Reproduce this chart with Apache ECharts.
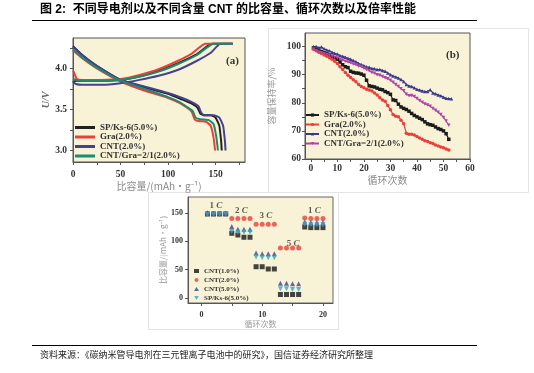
<!DOCTYPE html>
<html><head><meta charset="utf-8">
<script src="https://cdn.jsdelivr.net/npm/echarts@6/dist/echarts.min.js"></script>
<style>html,body{margin:0;padding:0;background:#fff}#c{width:534px;height:373px}</style>
</head><body><div id="c"></div>
<script>
// ---------- Panel (a): charge / discharge curves ----------
const aNames = ['SP/Ks-6(5.0%)', 'Gra(2.0%)', 'CNT(2.0%)', 'CNT/Gra=2/1(2.0%)'];
const aColors = ['#222222', '#e8403a', '#45408f', '#1f8a6e'];
// charge (rising) curves
const spChargeCap  = [0, 3, 10, 30, 50, 70, 90, 110, 130, 146, 168];
const spChargeV    = [3.83, 3.85, 3.85, 3.85, 3.86, 3.90, 3.97, 4.06, 4.17, 4.30, 4.30];
const graChargeCap = [0, 1, 4, 10, 30, 50, 70, 90, 110, 125, 139, 168];
const graChargeV   = [3.97, 3.95, 3.87, 3.86, 3.86, 3.87, 3.92, 3.99, 4.09, 4.18, 4.30, 4.30];
const cntChargeCap = [0, 3, 10, 30, 50, 70, 90, 110, 130, 145, 155, 168];
const cntChargeV   = [3.84, 3.81, 3.80, 3.80, 3.82, 3.86, 3.91, 3.98, 4.09, 4.19, 4.30, 4.30];
const mixChargeCap = [0, 3, 10, 30, 50, 70, 90, 110, 130, 148, 168];
const mixChargeV   = [3.87, 3.86, 3.85, 3.85, 3.86, 3.90, 3.96, 4.05, 4.16, 4.30, 4.30];
// discharge (falling) curves
const spDisCap  = [0, 10, 25, 50, 75, 100, 115, 125, 131, 134, 137, 145, 150, 154, 156, 156.5];
const spDisV    = [4.27, 4.16, 4.03, 3.86, 3.77, 3.69, 3.62, 3.57, 3.52, 3.45, 3.43, 3.43, 3.40, 3.30, 3.10, 3.00];
const graDisCap = [0, 10, 25, 50, 75, 100, 112, 120, 125, 128, 132, 140, 145, 148, 149.5];
const graDisV   = [4.22, 4.12, 4.00, 3.84, 3.73, 3.64, 3.58, 3.52, 3.47, 3.38, 3.36, 3.35, 3.30, 3.15, 3.00];
const cntDisCap = [0, 10, 25, 50, 75, 100, 115, 125, 132, 135, 138, 148, 154, 158, 160, 160.5];
const cntDisV   = [4.26, 4.16, 4.03, 3.86, 3.78, 3.70, 3.64, 3.59, 3.54, 3.46, 3.43, 3.43, 3.40, 3.30, 3.10, 3.00];
const mixDisCap = [0, 10, 25, 50, 75, 100, 112, 120, 126, 129, 134, 143, 148, 151, 152.5];
const mixDisV   = [4.23, 4.13, 4.01, 3.85, 3.75, 3.65, 3.59, 3.53, 3.48, 3.40, 3.38, 3.37, 3.32, 3.15, 3.00];
const aXTicks = [0, 50, 100, 150];
const aYTicks = [3.0, 3.5, 4.0];

// ---------- Panel (b): capacity retention vs cycle ----------
const bNames = ['SP/Ks-6(5.0%)', 'Gra(2.0%)', 'CNT(2.0%)', 'CNT/Gra=2/1(2.0%)'];
const bColors = ['#1c1c1c', '#e8403a', '#3d3a8c', '#b044a8'];
const bSP  = [99.5, 99, 98.5, 98.2, 97.8, 97.5, 97, 96.5, 96, 95.5, 94.5, 93.5, 92.8, 92.5, 91.2, 90.8, 90.6, 90.5, 90.2, 89.8,
              88, 86, 85.8, 85.6, 85.2, 84.8, 84.6, 84, 83.6, 83, 81, 80.8, 79.5, 78.5, 78, 77.6, 77, 76.2, 75.5, 75,
              74.5, 74, 73.2, 72.5, 72.2, 72, 71.4, 70.8, 70.5, 70, 69, 67];
const bGra = [99, 98.5, 98, 97.5, 97, 96.5, 96, 95.5, 94.8, 94, 92.8, 91.8, 90.8, 89.8, 89, 88.2, 87.5, 86.5, 85.8, 85.3,
              84.8, 84.5, 84.2, 83.5, 82.8, 81.8, 81, 80.5, 79, 77.5, 75.8, 75.2, 75, 73.8, 72.5, 69.2, 68.8, 68.8, 68.5, 68,
              67.5, 67, 66.5, 66.2, 65.8, 65.5, 65, 64.6, 64.3, 64, 63.6, 63.2];
const bCNT = [100, 100, 99.6, 99.8, 99.2, 98.8, 98.5, 98, 97.6, 97.3, 96.8, 96.5, 96.2, 95.8, 95.5, 95, 94.6, 94, 93.6, 93.2,
              92.8, 92.6, 92.2, 92.1, 91.8, 91.8, 91.5, 91.2, 90.6, 90, 89.5, 89.2, 88.8, 88.3, 87.6, 86.5, 86, 85.8, 85.3, 84.8,
              84.5, 84.2, 84, 84, 84.6, 83.5, 83.2, 82.8, 82.5, 82, 81.6, 81.5, 81.4];
const bMix = [99, 98.5, 98, 97.8, 97.5, 97.2, 96.8, 96.5, 96.2, 95.9, 95.5, 95.2, 94.8, 94.5, 94.2, 93.8, 93.5, 93.1, 92.8, 92.3,
              91.8, 91.4, 90.8, 90.5, 90, 89.8, 89.3, 88.9, 88.5, 88, 87.3, 86.5, 85.8, 85, 84.3, 83, 82.5, 82.6, 82.2, 81.5,
              80.8, 80.2, 79.6, 79.2, 78.8, 78, 77.3, 76.6, 75.8, 74.8, 73.5, 72];
const bXTicks = [0, 10, 20, 30, 40, 50, 60];
const bYTicks = [60, 70, 80, 90, 100];

// ---------- Panel (c): rate performance ----------
const cNames = ['CNT(1.0%)', 'CNT(2.0%)', 'CNT(5.0%)', 'SP/Ks-6(5.0%)'];
const cColors = ['#151515', '#e8403a', '#3d4294', '#2fa6c8'];
const cCycles = [1, 2, 3, 4, 5, 6, 7, 8, 9, 10, 11, 12, 13, 14, 15, 16, 17, 18, 19, 20];
const cCNT1 = [148, 148, 148, 148, 114, 111, 107, 107, 55, 55, 51, 51, 6, 6, 6, 6, 125, 124, 124, 124];
const cCNT2 = [149, 149, 149, 149, 140, 140, 140, 140, 130, 130, 130, 130, 88, 88, 88, 88, 141, 140, 140, 140];
const cCNT5 = [150, 149, 149, 149, 126, 121, 121, 121, 79, 78, 78, 78, 26, 26, 25, 25, 134, 133, 133, 133];
const cSP   = [147, 147, 147, 147, 117, 116, 116, 116, 72, 71, 71, 71, 16, 16, 15, 15, 130, 129, 129, 129];
const cRateText = ['1', '2', '3', '5', '1'];
const cRateX = [2.4, 6.6, 10.6, 15.1, 18.6];
const cRateY = [163, 154, 145, 96, 154];
const cXTicks = [0, 10, 20];
const cYTicks = [0, 50, 100, 150];

const serif = '"Liberation Serif","DejaVu Serif",serif';
const cjk = '"Noto Sans CJK SC","Noto Sans",sans-serif';
const cream = '#f8f3d7';

function zip(xs, ys) { return xs.map((x, i) => [x, ys[i]]); }

const chart = echarts.init(document.getElementById('c'), null, {renderer: 'canvas'});

function axisCommon(ticks, labelTicks, fontSize, margin, fmt) {
  return {
    type: 'value',
    axisLine: {show: true, onZero: false, lineStyle: {color: '#555', width: 1}},
    axisTick: {show: true, inside: false, length: 3, customValues: ticks, lineStyle: {color: '#555'}},
    axisLabel: {show: true, customValues: labelTicks, fontFamily: serif, fontWeight: 'bold', fontSize: fontSize,
                color: '#333', margin: margin, formatter: fmt || (v => String(v))},
    splitLine: {show: false},
    nameTextStyle: {fontFamily: cjk, color: '#8a8a8a'}
  };
}

const series = [];
const aCharge = [[spChargeCap, spChargeV], [graChargeCap, graChargeV], [cntChargeCap, cntChargeV], [mixChargeCap, mixChargeV]];
const aDis = [[spDisCap, spDisV], [graDisCap, graDisV], [cntDisCap, cntDisV], [mixDisCap, mixDisV]];
aNames.forEach((n, i) => {
  [aDis[i], aCharge[i]].forEach(d => {
    series.push({
      type: 'line', name: 'a:' + n, xAxisIndex: 0, yAxisIndex: 0, symbol: 'none',
      data: zip(d[0], d[1]), smooth: 0.15, color: aColors[i],
      lineStyle: {width: 2, color: aColors[i]}, silent: true, animation: false
    });
  });
});

const bSym = ['rect', 'circle', 'triangle', 'path://M0,0 L10,0 L5,9 Z'];
[bSP, bGra, bCNT, bMix].forEach((vals, i) => {
  series.push({
    type: 'line', name: 'b:' + bNames[i], xAxisIndex: 1, yAxisIndex: 1,
    data: vals.map((v, k) => [k + 1, v]), symbol: bSym[i], symbolSize: 3.5, showSymbol: true,
    color: bColors[i], lineStyle: {width: 1.2, color: bColors[i]}, itemStyle: {color: bColors[i]},
    animation: false
  });
});

const cSym = ['rect', 'circle', 'triangle', 'path://M0,0 L10,0 L5,9 Z'];
[cCNT1, cCNT2, cCNT5, cSP].forEach((vals, i) => {
  series.push({
    type: 'scatter', name: 'c:' + cNames[i], xAxisIndex: 2, yAxisIndex: 2,
    data: zip(cCycles, vals), symbol: cSym[i], symbolSize: 5,
    itemStyle: {color: cColors[i]}, animation: false
  });
});
series.push({
  type: 'scatter', name: 'rates', xAxisIndex: 2, yAxisIndex: 2, symbolSize: 0, silent: true,
  data: cRateText.map((t, i) => ({value: [cRateX[i], cRateY[i]], t: t})),
  label: {
    show: true, position: 'inside',
    formatter: p => '{n|' + p.data.t + ' }{c|C}',
    rich: {
      n: {fontFamily: serif, fontWeight: 'bold', fontSize: 9, color: '#333'},
      c: {fontFamily: serif, fontWeight: 'bold', fontStyle: 'italic', fontSize: 9, color: '#333'}
    }
  }
});

const ax0 = axisCommon([0, 25, 50, 75, 100, 125, 150, 175], aXTicks, 9.5, 8);
Object.assign(ax0, {gridIndex: 0, min: 0, max: 181, name: '比容量/(mAh·g⁻¹)', nameLocation: 'middle', nameGap: 19});
ax0.nameTextStyle = {fontFamily: cjk, color: '#8a8a8a', fontSize: 10};
const ay0 = axisCommon([3.0, 3.25, 3.5, 3.75, 4.0, 4.25], aYTicks, 9.5, 6, v => v.toFixed(1));
Object.assign(ay0, {gridIndex: 0, min: 2.86, max: 4.37, name: 'U/V', nameLocation: 'middle', nameGap: 13});
ay0.nameTextStyle = {fontFamily: serif, fontStyle: 'italic', fontWeight: 'bold', color: '#666', fontSize: 10};

const ax1 = axisCommon([0, 5, 10, 15, 20, 25, 30, 35, 40, 45, 50, 55, 60], bXTicks, 9.5, 5);
Object.assign(ax1, {gridIndex: 1, min: -2.2, max: 60, name: '循环次数', nameLocation: 'middle', nameGap: 16});
ax1.nameTextStyle = {fontFamily: cjk, color: '#8a8a8a', fontSize: 10};
const ay1 = axisCommon([60, 65, 70, 75, 80, 85, 90, 95, 100], bYTicks, 9.5, 4);
Object.assign(ay1, {gridIndex: 1, min: 60, max: 104.8, name: '容量保持率/%', nameLocation: 'middle', nameGap: 29});
ay1.nameTextStyle = {fontFamily: cjk, color: '#9a9a9a', fontSize: 9};

const ax2 = axisCommon([0, 5, 10, 15, 20], cXTicks, 8, 8);
Object.assign(ax2, {gridIndex: 2, min: -2.2, max: 21.65, name: '循环次数', nameLocation: 'middle', nameGap: 14});
ax2.nameTextStyle = {fontFamily: cjk, color: '#9a9a9a', fontSize: 8};
const ay2 = axisCommon([0, 50, 100, 150], cYTicks, 8, 5);
Object.assign(ay2, {gridIndex: 2, min: -9, max: 178, name: '比容量/(mAh·g⁻¹)', nameLocation: 'middle', nameGap: 20});
ay2.nameTextStyle = {fontFamily: cjk, color: '#9a9a9a', fontSize: 8};

const strip = n => n.slice(2);

chart.setOption({
  animation: false,
  backgroundColor: '#fff',
  grid: [
    {left: 73, top: 38, width: 172, height: 124, show: true, backgroundColor: cream, borderColor: '#555', borderWidth: 1, containLabel: false, outerBoundsMode: 'none'},
    {left: 305, top: 33, width: 165, height: 126, show: true, backgroundColor: cream, borderColor: '#555', borderWidth: 1, containLabel: false, outerBoundsMode: 'none'},
    {left: 188, top: 197, width: 145, height: 106, show: true, backgroundColor: cream, borderColor: '#666', borderWidth: 1, containLabel: false, outerBoundsMode: 'none'}
  ],
  xAxis: [ax0, ax1, ax2],
  yAxis: [ay0, ay1, ay2],
  legend: [
    {data: aNames.map(n => 'a:' + n), formatter: strip, orient: 'vertical', left: 75, top: 123, padding: 0,
     itemGap: 0.5, itemWidth: 20, itemHeight: 3, icon: 'rect', selectedMode: false,
     textStyle: {fontFamily: serif, fontWeight: 'bold', fontSize: 9, color: '#333', lineHeight: 9}},
    {data: bNames.map(n => 'b:' + n), formatter: strip, orient: 'vertical', left: 305, top: 110.5, padding: 0,
     itemGap: 0.5, itemWidth: 13, itemHeight: 4, selectedMode: false,
     textStyle: {fontFamily: serif, fontWeight: 'bold', fontSize: 9, color: '#333', lineHeight: 9}},
    {data: cNames.map(n => 'c:' + n), formatter: strip, orient: 'vertical', left: 194, top: 267, padding: 0,
     itemGap: 1, itemWidth: 5, itemHeight: 4, selectedMode: false,
     textStyle: {fontFamily: serif, fontWeight: 'bold', fontSize: 7, color: '#333', lineHeight: 8}}
  ],
  graphic: [
    {type: 'text', left: 40, top: 4, style: {text: '图 2:  不同导电剂以及不同含量 CNT 的比容量、循环次数以及倍率性能',
      font: 'bold 12px "Liberation Sans","Noto Sans CJK SC",sans-serif', fill: '#000'}},
    {type: 'line', shape: {x1: 32, y1: 20.5, x2: 477, y2: 20.5}, style: {stroke: '#000', lineWidth: 1}},
    {type: 'line', shape: {x1: 32, y1: 345.5, x2: 477, y2: 345.5}, style: {stroke: '#000', lineWidth: 1}},
    {type: 'text', left: 40, top: 350, style: {text: '资料来源：《碳纳米管导电剂在三元锂离子电池中的研究》，国信证券经济研究所整理',
      font: '9px "Noto Sans CJK SC",sans-serif', fill: '#222'}},
    {type: 'rect', shape: {x: 268.5, y: 28.5, width: 260, height: 164}, style: {fill: 'none', stroke: '#e4e4e4', lineWidth: 1}, z: -1},
    {type: 'rect', shape: {x: 148.5, y: 192.5, width: 190, height: 137}, style: {fill: 'none', stroke: '#e4e4e4', lineWidth: 1}, z: -1},
    {type: 'text', left: 226, top: 56, style: {text: '(a)', font: 'bold 11px ' + serif, fill: '#333'}},
    {type: 'text', left: 446, top: 50, style: {text: '(b)', font: 'bold 11px ' + serif, fill: '#333'}}
  ],
  series: series
});
</script></body></html>
